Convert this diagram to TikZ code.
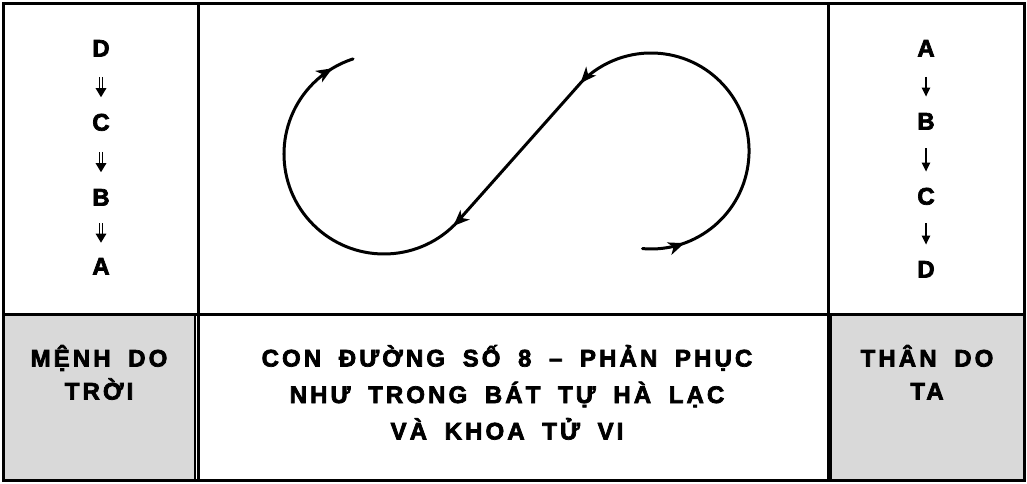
\documentclass[tikz,border=0pt]{standalone}
\usepackage{fontspec}
\newfontfamily\capfont{Liberation Sans}[LetterSpace=13, WordSpace=1.8, BoldFeatures={FakeBold=3}]
\newfontfamily\plainhv{Liberation Sans}[BoldFeatures={FakeBold=3}]
\usetikzlibrary{arrows.meta,decorations.markings}
\begin{document}
\begin{tikzpicture}[x=1pt,y=-1pt,
  frame/.style={line width=3pt},
  shadebox/.style={fill=black!15, draw=black, line width=1.6pt},
  letter/.style={font=\plainhv\bfseries\fontsize{24}{24}\selectfont, inner sep=0pt, text height=17.2pt, text depth=0pt},
  caption/.style={font=\capfont\bfseries\fontsize{24}{36.5}\selectfont, align=center, inner sep=0pt},
  boxtext/.style={font=\capfont\bfseries\fontsize{24}{33}\selectfont, align=center, inner sep=0pt},
  sarrow/.style={line width=2pt, -{Triangle[length=9pt,width=8pt]}},
  darrow/.style={double, line width=1.4pt, double distance=1.5pt, -{Triangle[length=9pt,width=10.5pt]}},
  curve/.style={line width=3pt, line cap=round},
  tipmark/.style={postaction={decorate, decoration={markings,
    mark=at position 0.045 with {\arrow{Stealth[length=16pt,width=13pt,inset=4.5pt]}},
    mark=at position 0.418 with {\arrow{Stealth[length=16pt,width=13pt,inset=4.5pt]}},
    mark=at position 0.62 with {\arrow{Stealth[length=16pt,width=13pt,inset=4.5pt]}},
    mark=at position 0.976 with {\arrow{Stealth[length=16pt,width=13pt,inset=4.5pt]}}}}}
]
\useasboundingbox (0,0) rectangle (1027,483);
% shaded boxes
\draw[shadebox] (3,314) rectangle (195,480);
\draw[shadebox] (831,314) rectangle (1024,480);
% frame and dividers
\draw[frame] (3,3) rectangle (1024,480);
\draw[frame] (198,3) -- (198,480);
\draw[frame] (828,3) -- (828,480);
\draw[frame] (3,314) -- (1024,314);
% left column
\node[letter] (lD) at (101,48) {D};
\node[letter] (lC) at (101,122) {C};
\node[letter] (lB) at (101,197) {B};
\node[letter] (lA) at (101,266) {A};
\draw[darrow, shorten <=20pt, shorten >=16pt] (lD) -- (lC);
\draw[darrow, shorten <=21pt, shorten >=16pt] (lC) -- (lB);
\draw[darrow, shorten <=17.5pt, shorten >=14.5pt] (lB) -- (lA);
% right column
\node[letter] (rA) at (926,48) {A};
\node[letter] (rB) at (926,121) {B};
\node[letter] (rC) at (926,196) {C};
\node[letter] (rD) at (926,269) {D};
\draw[sarrow, shorten <=20pt, shorten >=15.5pt] (rA) -- (rB);
\draw[sarrow, shorten <=18.5pt, shorten >=15.5pt] (rB) -- (rC);
\draw[sarrow, shorten <=18.5pt, shorten >=15.5pt] (rC) -- (rD);
% figure eight path
\draw[curve, tipmark] (642.5,248.6) arc[start angle=95, end angle=-135, radius=98]
  -- (454.7,224.7) arc[start angle=45, end angle=252, radius=100];
% texts
\node[boxtext, anchor=base] (menh) at (99,399.6) {MỆNH DO\\TRỜI};
\node[boxtext, anchor=base] (than) at (927,399.6) {THÂN DO\\TA};
\node[caption, anchor=base] (cap) at (507,439.5) {CON ĐƯỜNG SỐ 8 – PHẢN PHỤC\\NHƯ TRONG BÁT TỰ HÀ LẠC\\VÀ KHOA TỬ VI};
\end{tikzpicture}
\end{document}
